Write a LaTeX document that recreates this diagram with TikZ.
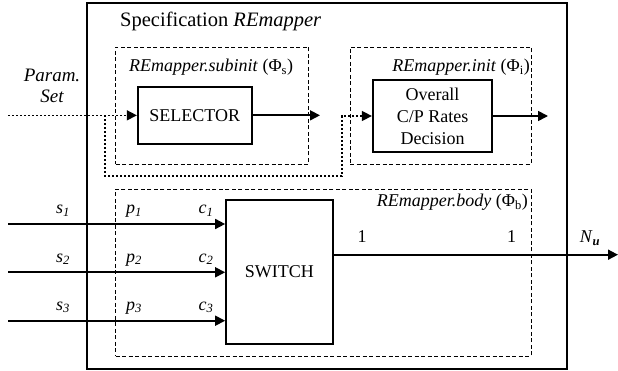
\documentclass[tikz,border=0pt]{standalone}
\usepackage{fontspec}
\setmainfont{Liberation Serif}
\usetikzlibrary{arrows.meta,calc}
\begin{document}
\begin{tikzpicture}[x=1pt,y=-1pt,
  box/.style={draw,line width=1.7pt,inner sep=0pt},
  grp/.style={draw,line width=0.9pt,dash pattern=on 4pt off 2.5pt,inner sep=0pt},
  dotl/.style={line width=1.5pt,dash pattern=on 2pt off 2pt},
  sig/.style={line width=1.7pt},
  tip/.style={-{Triangle[length=10pt,width=10pt]}},
  txt/.style={font=\fontsize{18}{22}\selectfont,inner sep=0pt},
  ttl/.style={font=\fontsize{20.5}{24}\selectfont,inner sep=0pt},
]
\useasboundingbox (0,0) rectangle (618,371);
% frames
\node[box,minimum width=480pt,minimum height=366pt] (outer) at (327,186) {};
\node[grp,minimum width=193pt,minimum height=117pt] (subinit) at (212.2,105.5) {};
\node[grp,minimum width=181pt,minimum height=117pt] (init) at (440.5,105.5) {};
\node[grp,minimum width=415.3pt,minimum height=167pt] (body) at (323.35,272.5) {};
% blocks
\node[box,txt,minimum width=114pt,minimum height=57.3pt] (sel) at (194.7,115.35) {SELECTOR};
\node[box,txt,align=center,minimum width=119.6pt,minimum height=72pt] (ov) at (432.5,116) {Overall\\C/P Rates\\Decision};
\node[box,txt,minimum width=106.7pt,minimum height=144pt] (sw) at (279.35,272) {SWITCH};
% titles
\node[ttl,anchor=base west] (spec) at (120,27) {Specification \textit{REmapper}};
\node[txt,anchor=base west] (subl) at (129,72) {\textit{REmapper.subinit} (Φ\textsubscript{s})};
\node[txt,anchor=base east] (initl) at (530,72) {\textit{REmapper.init} (Φ\textsubscript{i})};
\node[txt,anchor=base east] (bodyl) at (528,207) {\textit{REmapper.body} (Φ\textsubscript{b})};
\node[txt,align=center,font=\fontsize{19}{21}\selectfont\itshape] (param) at (52,86) {Param.\\Set};
% param connectors
\coordinate (pin) at (8,115.35);
\coordinate (br) at (105,115.35);
\coordinate (loop) at (342,176);
\draw[dotl,tip] (pin) -- (sel.west);
\draw[dotl,tip] (br) |- (loop) |- (ov.west);
\coordinate (selout) at (320,115.35);
\coordinate (ovout) at (548,116);
\draw[sig,tip] (sel.east) -- (selout);
\draw[sig,tip] (ov.east) -- (ovout);
% inputs
\coordinate (in1) at (8,224);
\coordinate (in2) at (8,272.3);
\coordinate (in3) at (8,320.7);
\draw[sig,tip] (in1) -- (in1 -| sw.west);
\draw[sig,tip] (in2) -- (in2 -| sw.west);
\draw[sig,tip] (in3) -- (in3 -| sw.west);
\foreach \i/\y in {1/214,2/262,3/310}{
  \node[txt,anchor=base] (s\i) at (63,\y) {\textit{s}\textsubscript{\textit{\i}}};
  \node[txt,anchor=base] (p\i) at (134,\y) {\textit{p}\textsubscript{\textit{\i}}};
  \node[txt,anchor=base] (c\i) at (206,\y) {\textit{c}\textsubscript{\textit{\i}}};
}
% output
\coordinate (out) at (618,254.7);
\draw[sig,tip] (sw.east |- out) -- (out);
\node[txt,anchor=base] (o1) at (362,243) {1};
\node[txt,anchor=base] (o2) at (511.7,243) {1};
\node[txt,anchor=base] (nu) at (590,243) {\textit{N}\textsubscript{\textit{\textbf{u}}}};
\end{tikzpicture}
\end{document}
